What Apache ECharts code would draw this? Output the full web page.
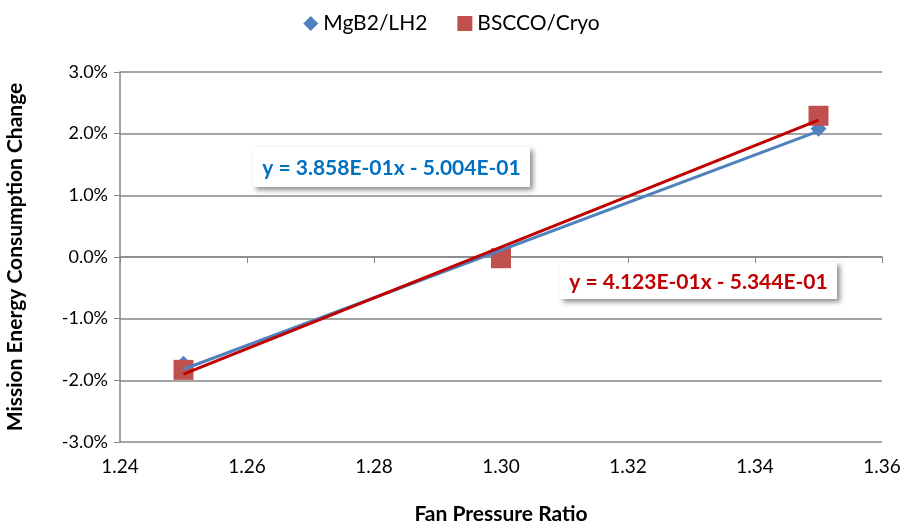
<!DOCTYPE html>
<html>
<head>
<meta charset="utf-8">
<script src="https://cdn.jsdelivr.net/npm/echarts@6/dist/echarts.min.js"></script>
<style>html,body{margin:0;padding:0;background:#fff}#c{width:903px;height:523px}</style>
</head>
<body>
<div id="c"></div>
<script>
// Data (values in %)
const seriesNames = ['MgB2/LH2', 'BSCCO/Cryo'];
const fanPressureRatio = [1.25, 1.30, 1.35];
const mgb2Values = [-1.73, -0.02, 2.08];
const bsccoValues = [-1.83, -0.02, 2.29];
// Trendline end points
const trendX = [1.25, 1.35];
const mgb2Trend = [-1.82, 2.04];
const bsccoTrend = [-1.90, 2.22];
const mgb2Equation = 'y = 3.858E-01x - 5.004E-01';
const bsccoEquation = 'y = 4.123E-01x - 5.344E-01';

const FONT = 'Lato';
const chart = echarts.init(document.getElementById('c'));
const pair = (xs, ys) => xs.map((x, i) => [x, ys[i]]);

chart.setOption({
  animation: false,
  textStyle: { fontFamily: FONT },
  legend: {
    top: 8, left: 'center', itemGap: 30, itemWidth: 15, itemHeight: 15,
    textStyle: { fontFamily: FONT, fontSize: 21, color: '#000' },
    data: [
      { name: seriesNames[0], icon: 'diamond', itemStyle: { color: '#4F81BD' } },
      { name: seriesNames[1], icon: 'rect', itemStyle: { color: '#C0504D' } }
    ]
  },
  grid: { left: 120, right: 21, top: 72, bottom: 81, containLabel: false, outerBoundsMode: 'none' },
  xAxis: {
    type: 'value', min: 1.24, max: 1.36, interval: 0.02,
    name: 'Fan Pressure Ratio', nameLocation: 'middle', nameGap: 62,
    nameTextStyle: { fontFamily: FONT, fontSize: 21, fontWeight: 'bold', color: '#000' },
    axisLine: { show: true, lineStyle: { color: '#868686', width: 1.5 } },
    axisTick: { show: true, length: 6, lineStyle: { color: '#868686' } },
    axisLabel: { fontFamily: FONT, fontSize: 19, color: '#000', margin: 15, formatter: v => v.toFixed(2) },
    splitLine: { show: false }
  },
  yAxis: {
    type: 'value', min: -3, max: 3, interval: 1,
    name: 'Mission Energy Consumption Change', nameLocation: 'middle', nameGap: 94,
    nameTextStyle: { fontFamily: FONT, fontSize: 21, fontWeight: 'bold', color: '#000' },
    axisLine: { show: true, lineStyle: { color: '#868686', width: 1.5 } },
    axisTick: { show: true, length: 6, lineStyle: { color: '#868686' } },
    axisLabel: { fontFamily: FONT, fontSize: 18, color: '#000', margin: 12, formatter: v => v.toFixed(1) + '%' },
    splitLine: { show: true, lineStyle: { color: '#868686', width: 1.5 } }
  },
  series: [
    {
      name: seriesNames[0], type: 'scatter', symbol: 'diamond', symbolSize: 16,
      itemStyle: { color: '#4F81BD', opacity: 1 }, data: pair(fanPressureRatio, mgb2Values), z: 3
    },
    {
      name: seriesNames[1], type: 'scatter', symbol: 'rect', symbolSize: 20,
      itemStyle: { color: '#C0504D', opacity: 1 }, data: pair(fanPressureRatio, bsccoValues), z: 4
    },
    {
      name: 'mgb2Trend', type: 'line', showSymbol: false, symbol: 'none',
      lineStyle: { color: '#4F81BD', width: 3 }, data: pair(trendX, mgb2Trend), z: 5, silent: true
    },
    {
      name: 'bsccoTrend', type: 'line', showSymbol: false, symbol: 'none',
      lineStyle: { color: '#C00000', width: 3 }, data: pair(trendX, bsccoTrend), z: 6, silent: true
    }
  ],
  graphic: [
    {
      type: 'group', left: 253, top: 147, z: 100,
      children: [
        { type: 'rect', shape: { x: 0, y: 0, width: 277, height: 40 },
          style: { fill: '#fff', shadowBlur: 5, shadowOffsetX: 3, shadowOffsetY: 3, shadowColor: 'rgba(0,0,0,0.45)' } },
        { type: 'text', x: 138.5, y: 21,
          style: { text: mgb2Equation, fill: '#0070C0', font: 'bold 21px ' + FONT, align: 'center', verticalAlign: 'middle' } }
      ]
    },
    {
      type: 'group', left: 560, top: 262, z: 100,
      children: [
        { type: 'rect', shape: { x: 0, y: 0, width: 277, height: 37 },
          style: { fill: '#fff', shadowBlur: 5, shadowOffsetX: 3, shadowOffsetY: 3, shadowColor: 'rgba(0,0,0,0.45)' } },
        { type: 'text', x: 138.5, y: 20,
          style: { text: bsccoEquation, fill: '#C00000', font: 'bold 21px ' + FONT, align: 'center', verticalAlign: 'middle' } }
      ]
    }
  ]
});
</script>
</body>
</html>
